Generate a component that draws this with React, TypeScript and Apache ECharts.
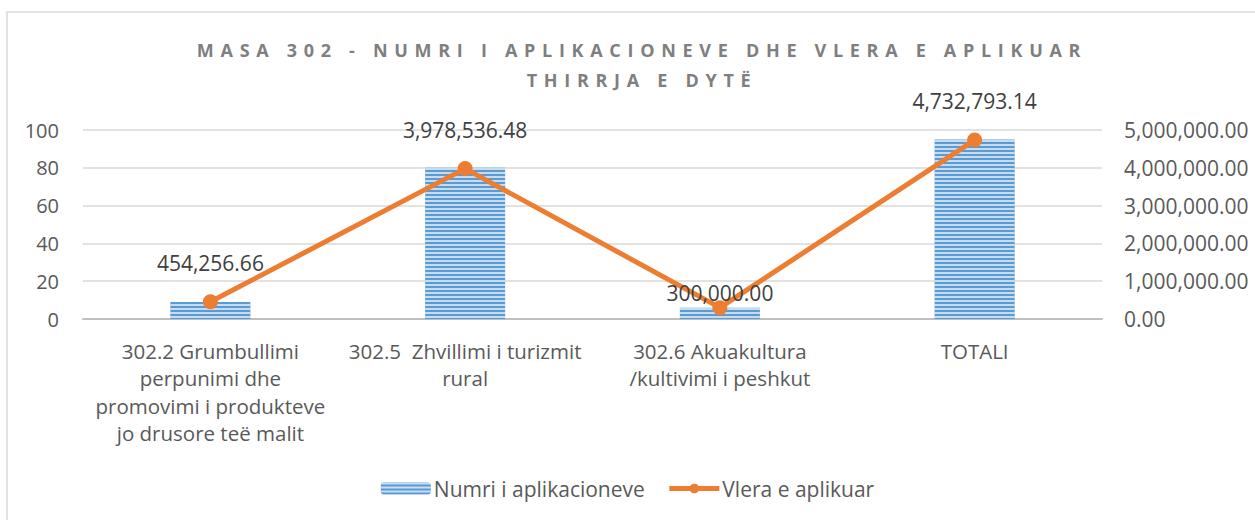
import React, { useEffect, useRef } from "react";
import * as echarts from "echarts";

const titleLines = ["MASA 302 - NUMRI I APLIKACIONEVE DHE VLERA E APLIKUAR", "THIRRJA E DYTË"];
const categories = [
  "302.2 Grumbullimi\nperpunimi dhe\npromovimi i produkteve\njo drusore teë malit",
  "302.5  Zhvillimi i turizmit\nrural",
  "302.6 Akuakultura\n/kultivimi i peshkut",
  "TOTALI",
];
const applications = [9, 80, 6, 95];
const appliedValues = [454256.66, 3978536.48, 300000.0, 4732793.14];
const seriesNames = ["Numri i aplikacioneve", "Vlera e aplikuar"];

const FONT = "'Open Sans', Lato, sans-serif";
const fmt = (v: number) =>
  v.toLocaleString("en-US", { minimumFractionDigits: 2, maximumFractionDigits: 2 });

export default function App() {
  const ref = useRef<HTMLDivElement>(null);
  useEffect(() => {
    document.body.style.margin = "0";
    const chart = echarts.init(ref.current!, null, { renderer: "svg" });
    chart.setOption({
      animation: false,
      backgroundColor: "#ffffff",
      textStyle: { fontFamily: FONT },
      graphic: [
        {
          type: "rect",
          shape: { x: 7, y: 12, width: 1300, height: 600 },
          style: { fill: "none", stroke: "#d9d9d9", lineWidth: 1.5 },
          silent: true,
        },
      ],
      legend: {
        bottom: 16,
        left: "center",
        itemGap: 22,
        itemWidth: 50,
        itemHeight: 12,
        textStyle: { fontSize: 21, color: "#595959", fontFamily: FONT, padding: [0, 0, 0, -2] },
        data: [
          { name: seriesNames[0] },
          { name: seriesNames[1], lineStyle: { width: 5, color: "#ed7d31" } },
        ],
      },
      grid: { left: 83, right: 153, top: 130, bottom: 201, containLabel: false },
      xAxis: {
        type: "category",
        data: categories,
        axisTick: { show: false },
        axisLine: { lineStyle: { color: "#bfbfbf", width: 2 } },
        axisLabel: {
          fontSize: 20.5,
          color: "#595959",
          lineHeight: 27.5,
          margin: 18,
          interval: 0,
          fontFamily: FONT,
        },
      },
      yAxis: [
        {
          type: "value",
          min: 0,
          max: 100,
          interval: 20,
          axisLine: { show: false },
          axisTick: { show: false },
          splitLine: { lineStyle: { color: "#d9d9d9", width: 1.5 } },
          axisLabel: { fontSize: 20, color: "#595959", margin: 24, fontFamily: FONT },
        },
        {
          type: "value",
          min: 0,
          max: 5000000,
          interval: 1000000,
          axisLine: { show: false },
          axisTick: { show: false },
          splitLine: { show: false },
          axisLabel: {
            fontSize: 21,
            color: "#595959",
            margin: 22,
            fontFamily: FONT,
            formatter: (v: number) => fmt(v),
          },
        },
      ],
      series: [
        {
          name: seriesNames[0],
          type: "bar",
          yAxisIndex: 0,
          data: applications,
          barWidth: 80,
          itemStyle: {
            color: "#5b9bd5",
            decal: {
              symbol: "rect",
              symbolSize: 1,
              color: "rgba(255,255,255,0.65)",
              dashArrayX: [1, 0],
              dashArrayY: [2, 2],
              rotation: 0,
            },
          },
        },
        {
          name: seriesNames[1],
          type: "line",
          yAxisIndex: 1,
          data: appliedValues.map((v, i) =>
            i === 2 ? { value: v, label: { distance: -3 } } : { value: v }
          ),
          symbol: "circle",
          symbolSize: 15,
          lineStyle: { color: "#ed7d31", width: 5 },
          itemStyle: { color: "#ed7d31" },
          label: {
            show: true,
            position: "top",
            distance: 21,
            fontSize: 21,
            color: "#404040",
            fontFamily: FONT,
            formatter: (p: any) => fmt(p.value),
          },
          z: 5,
        },
      ],
    });
    return () => chart.dispose();
  }, []);
  return (
    <div style={{ position: "relative", width: 1255, height: 520 }}>
      <div ref={ref} style={{ width: 1255, height: 520 }} />
      <div
        style={{
          position: "absolute",
          left: 0,
          top: 35,
          width: 1284,
          textAlign: "center",
          fontFamily: FONT,
          fontWeight: 700,
          fontSize: 18,
          letterSpacing: 6.7,
          color: "#7f7f7f",
          lineHeight: "30px",
          pointerEvents: "none",
        }}
      >
        {titleLines.map((t) => (
          <div key={t}>{t}</div>
        ))}
      </div>
    </div>
  );
}
